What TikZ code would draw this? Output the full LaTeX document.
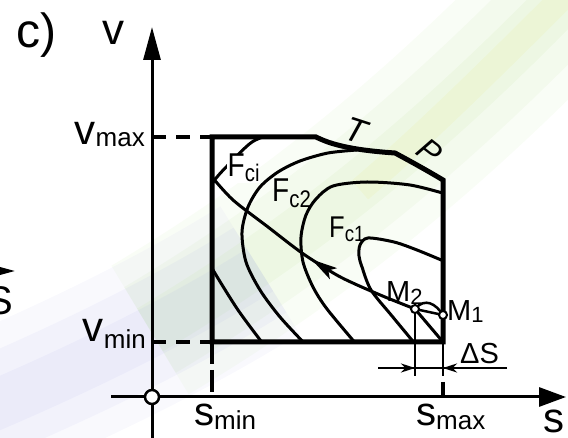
\documentclass[tikz,border=0pt]{standalone}
\usepackage{fontspec}
\setmainfont{Liberation Sans}
\usetikzlibrary{arrows.meta,decorations.markings}
\definecolor{streakg}{RGB}{160,215,110}
\definecolor{streaky}{RGB}{235,230,120}
\definecolor{streakb}{RGB}{150,150,225}
\tikzset{
  axis/.style={line width=3pt},
  bound/.style={line width=5pt, line join=miter},
  level/.style={line width=3pt},
  guide/.style={line width=4pt, dash pattern=on 14pt off 10pt},
  dimline/.style={line width=2.5pt},
  dimtip/.style={-{Stealth[length=14pt,width=9pt]}},
  dot/.style={circle, draw, fill=white, line width=2pt, inner sep=0pt, minimum size=8pt},
  lab/.style={inner sep=0pt},
  flow/.style={postaction={decorate}, decoration={markings,
    mark=at position 0.47 with {\arrow{Stealth[length=26pt,width=13pt,inset=6pt]}}}}
}
\newcommand{\txt}[2]{{\fontsize{#1}{#1}\selectfont #2}}
\newcommand{\flab}[4]{\scalebox{0.85}[1]{\txt{#1}{F}\raisebox{-#4pt}{\txt{#2}{#3}}}}

\begin{document}
\begin{tikzpicture}[x=1pt, y=-1pt]
  \useasboundingbox (0,0) rectangle (568,438);
  % faint streaks in the background
  \foreach \w/\o in {150/0.06, 100/0.07, 50/0.08}{
    \draw[streakg, line width=\w pt, draw opacity=\o] (600,-40) .. controls (430,140) and (300,240) .. (150,330);
    \draw[streakb, line width=\w pt, draw opacity=\o] (260,270) .. controls (180,320) and (80,370) .. (-40,420);
  }
  \draw[streaky, line width=25pt, draw opacity=0.12] (590,-30) .. controls (500,60) and (430,130) .. (360,190);
  % axes
  \coordinate (O) at (152,397);
  \coordinate (vTop) at (152,27);
  \coordinate (vBot) at (152,438);
  \coordinate (sLeft) at (111,397);
  \coordinate (sRight) at (566,397);
  \draw[axis, -{Triangle[length=33pt,width=17pt]}] (vBot) -- (vTop);
  \draw[axis, -{Triangle[length=27pt,width=19pt]}] (sLeft) -- (sRight);
  % piece of the neighbouring figure
  \coordinate (xL) at (-60,271);
  \coordinate (xR) at (15,271);
  \draw[axis, -{Triangle[length=33pt,width=17pt]}] (xL) -- (xR);
  \node[lab, anchor=base east] (sPrev) at (13,315) {\txt{40}{S}};
  % corners of the admissible region
  \coordinate (bSW) at (212,342);
  \coordinate (bNW) at (212,137);
  \coordinate (tA) at (316,137);
  \coordinate (tB) at (395,153);
  \coordinate (bNE) at (443,180);
  \coordinate (bSE) at (443,342);
  \coordinate (vmax) at (152,137);
  \coordinate (vmin) at (152,342);
  \coordinate (smin) at (212,397);
  \coordinate (smaxA) at (443,382);
  \coordinate (smax) at (443,397);
  \draw[guide] (vmax) -- (bNW);
  \draw[guide] (vmin) -- (bSW);
  \draw[guide, dash pattern=on 22pt off 6pt] (bSW) -- (smin);
  \draw[line width=4pt] (smaxA) -- (smax);
  % level curves F = const
  \begin{scope}
    \clip (bSW) rectangle (443,137);
    \draw[level] plot[smooth] coordinates {(272,134) (252,142) (230,163) (212,184) (204,210) (203,238) (207,258) (213,270) (238,310) (264,345)};
    \draw[level] plot[smooth] coordinates {(357,150) (328,153) (300,161) (278,172) (260,187) (248,207) (242,232) (246,262) (260,290) (280,317) (306,345)};
    \draw[level] plot[smooth] coordinates {(446,194) (410,185) (367,182) (333,186) (316,199) (306,215) (301,237) (303,262) (313,287) (327,309) (357,345)};
    \draw[level] plot[smooth] coordinates {(446,262) (417,250) (394,242) (368,238) (360,245) (359,256) (362,267) (371,290) (392,316) (416,345)};
  \end{scope}
  \coordinate (pM2) at (415,309);
  \coordinate (pM1) at (443,315);
  \draw[level] (pM2) -- (bSE);
  % boundary: s_min, s_max, v_min, v_max, T and P
  \draw[bound] (bSE) -- (bSW) -- (bNW) -- (tA)
    .. controls (330,144) and (350,150) .. (tB)
    .. controls (410,161) and (428,171) .. (bNE) -- cycle;
  % trajectory towards lower force
  \draw[level, flow] plot[smooth] coordinates {(415,309) (385,297) (355,284) (335,274) (302,253) (268,227) (233,200) (212,177)};
  \draw[dimline] (pM2) -- (pM1);
  \draw[dimline] (pM2) .. controls (425,297) and (436,304) .. (pM1);
  % step Delta s
  \coordinate (e2) at (415,376);
  \coordinate (e1) at (443,376);
  \coordinate (dL) at (378,368);
  \coordinate (dR) at (507,368);
  \coordinate (d2) at (415,368);
  \coordinate (d1) at (443,368);
  \draw[dimline] (pM2) -- (e2);
  \draw[dimline] (bSE) -- (e1);
  \draw[dimline] (dL) -- (dR);
  \draw[dimline, dimtip] (dL) -- (d2);
  \draw[dimline, dimtip] (dR) -- (d1);
  \node[dot] (M2) at (pM2) {};
  \node[dot] (M1) at (pM1) {};
  \node[dot, minimum size=14pt, line width=2.5pt] (orig) at (O) {};
  % labels
  \node[lab, anchor=base west] (cLab) at (16,48) {\txt{48}{c)}};
  \node[lab, anchor=base] (vLab) at (113,45) {\txt{44}{v}};
  \node[lab, anchor=base east] (vmaxLab) at (145,145) {\txt{42}{v}\raisebox{-2pt}{\txt{26}{max}}};
  \node[lab, anchor=base east] (vminLab) at (146,342) {\txt{42}{v}\raisebox{-7pt}{\txt{26}{min}}};
  \node[lab, anchor=base west] (sminLab) at (194,425) {\txt{40}{s}\raisebox{-5pt}{\txt{26}{min}}};
  \node[lab, anchor=base west] (smaxLab) at (416,426) {\txt{40}{s}\raisebox{-3pt}{\txt{26}{max}}};
  \node[lab, anchor=base west] (sLab) at (543,432) {\txt{42}{s}};
  \node[lab, anchor=base west, fill=white, inner sep=0.5pt] (fci) at (227,177) {\flab{33}{24}{ci}{5}};
  \node[lab, anchor=base west] (fc2) at (272,202) {\flab{33}{24}{c2}{6}};
  \node[lab, anchor=base west] (fc1) at (329,238) {\flab{30}{22}{c1}{4}};
  \node[lab, rotate=-18] (tLab) at (356,131) {\txt{34}{\itshape T}};
  \node[lab, rotate=-38] (pLab) at (430,151) {\txt{32}{\itshape P}};
  \node[lab, anchor=base west] (m2Lab) at (386,302) {\txt{29}{M}\raisebox{-3pt}{\txt{22}{2}}};
  \node[lab, anchor=base west] (m1Lab) at (447,321) {\txt{29}{M}\raisebox{-2pt}{\txt{22}{1}}};
  \node[lab, anchor=base west] (dsLab) at (460,364) {\txt{29}{ΔS}};
\end{tikzpicture}
\end{document}
